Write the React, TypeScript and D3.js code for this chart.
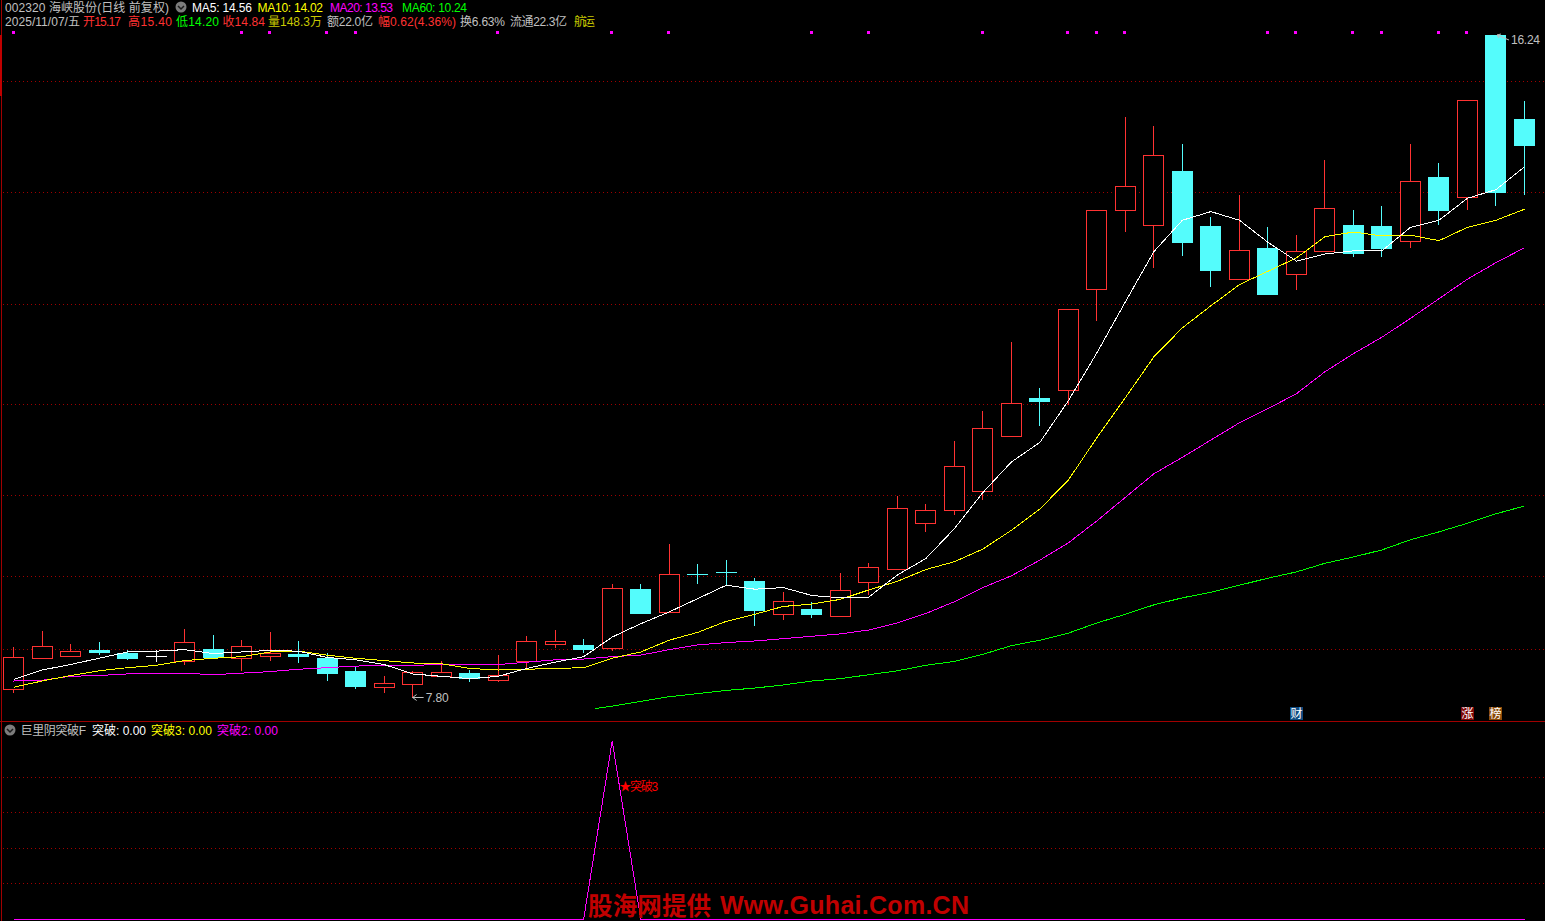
import * as d3 from 'd3';

// daily bars
const opens = [7.91,8.30,8.33,8.41,8.37,8.33,8.27,8.42,8.30,8.33,8.35,8.30,8.14,7.93,7.97,8.07,8.11,8.02,8.27,8.48,8.47,8.43,9.18,8.89,9.375,9.405,9.28,8.86,8.93,8.84,9.27,9.44,10.02,10.19,10.43,11.13,11.61,11.72,13.00,14.01,13.82,14.51,13.81,13.13,13.53,13.20,13.49,13.82,13.81,13.62,14.43,14.18,16.24,15.17];
const closes = [8.32,8.46,8.39,8.38,8.30,8.33,8.51,8.32,8.46,8.37,8.33,8.11,7.95,7.98,8.12,8.12,8.05,8.09,8.52,8.52,8.42,9.19,8.88,9.37,9.37,9.40,8.92,9.03,8.86,9.17,9.46,10.21,10.19,10.75,11.23,11.55,11.58,12.75,14.01,14.32,14.71,13.60,13.25,13.50,12.94,13.49,14.04,13.46,13.53,14.38,14.01,15.41,14.24,14.84];
const highs = [8.44,8.65,8.48,8.51,8.41,8.41,8.67,8.60,8.53,8.63,8.52,8.37,8.19,8.07,8.14,8.27,8.15,8.34,8.58,8.66,8.55,9.25,9.25,9.76,9.50,9.55,9.32,9.14,9.02,9.39,9.51,10.37,10.27,11.07,11.45,12.33,11.74,12.75,14.01,15.20,15.08,14.85,13.92,14.20,13.79,13.69,14.65,14.01,14.06,14.85,14.61,15.41,16.24,15.40];
const lows = [7.86,8.29,8.33,8.34,8.28,8.25,8.21,8.32,8.14,8.27,8.24,8.01,7.91,7.86,7.80,8.07,8.00,8.00,8.18,8.43,8.37,8.39,8.86,8.89,9.25,9.22,8.71,8.79,8.81,8.83,9.11,9.44,9.91,10.13,10.32,11.13,11.26,11.53,12.60,13.73,13.27,13.42,13.03,13.13,12.93,12.99,13.49,13.41,13.41,13.53,13.82,14.01,14.06,14.20];

const ma5 = [8.03,8.15,8.22,8.30,8.38,8.39,8.41,8.36,8.38,8.40,8.39,8.31,8.28,8.22,8.10,8.07,8.04,8.07,8.17,8.25,8.32,8.57,8.74,8.89,9.06,9.23,9.18,9.20,9.10,9.07,9.08,9.36,9.57,9.95,10.41,10.80,11.05,11.58,12.19,12.84,13.48,13.88,13.99,13.88,13.60,13.36,13.45,13.49,13.49,13.79,13.88,14.16,14.27,14.56];
const ma10 = [7.93,8.01,8.08,8.14,8.18,8.21,8.27,8.30,8.32,8.38,8.39,8.34,8.30,8.27,8.24,8.23,8.17,8.15,8.16,8.17,8.18,8.30,8.38,8.53,8.63,8.77,8.86,8.96,8.99,9.05,9.17,9.28,9.43,9.53,9.69,9.93,10.20,10.57,11.11,11.62,12.14,12.51,12.79,13.06,13.23,13.40,13.67,13.73,13.68,13.69,13.62,13.79,13.88,14.02];
const ma20 = [8.01,8.02,8.07,8.08,8.10,8.11,8.11,8.09,8.11,8.13,8.16,8.18,8.20,8.21,8.21,8.22,8.22,8.22,8.25,8.28,8.29,8.32,8.34,8.41,8.47,8.50,8.52,8.55,8.58,8.61,8.66,8.75,8.87,9.02,9.20,9.35,9.55,9.77,10.05,10.35,10.65,10.86,11.08,11.30,11.48,11.67,11.95,12.18,12.39,12.63,12.88,13.13,13.34,13.53];
// the 60 day line only starts part way along
const ma60Index = [20.4,21,22,23,24,25,26,27,28,29,30,31,32,33,34,35,36,37,38,39,40,41,42,43,44,45,46,47,48,49,50,51,52,53];
const ma60 = [7.66,7.69,7.75,7.81,7.85,7.89,7.92,7.96,8.01,8.04,8.09,8.14,8.21,8.26,8.35,8.46,8.53,8.62,8.75,8.86,8.98,9.07,9.14,9.23,9.32,9.40,9.51,9.59,9.68,9.81,9.91,10.02,10.14,10.24];

const priceGrid = [15.65,14.24,12.81,11.54,10.38,9.35,8.42];
const signalGrid = [0.2,0.4,0.6,0.8];
const signalDots = [0,8,9,11,12,17,21,23,28,30,34,37,38,39,44,45,47,48,50,51];
const breakout2 = [0,0,0,0,0,0,0,0,0,0,0,0,0,0,0,0,0,0,0,0,0,1,0,0,0,0,0,0,0,0,0,0,0,0,0,0,0,0,0,0,0,0,0,0,0,0,0,0,0,0,0,0,0,0];

const badges = [
  { index: 45, label: '财', fill: '#0f4a80' },
  { index: 51, label: '涨', fill: '#800808' },
  { index: 52, label: '榜', fill: '#8a4a08' },
];

const RED = '#ff3232';
const CYAN = '#54fcfc';
const YELLOW = '#ffff00';
const MAGENTA = '#ff00ff';
const GREEN = '#00ff00';
const GRAY = '#c0c0c0';
const OLIVE = '#c8c800';
const GRID = '#a00000';
const FRAME = '#a00000';
const FONT = '"Liberation Sans","Noto Sans CJK SC",sans-serif';

const WIDTH = 1545;
const HEIGHT = 921;

const x = d3.scaleLinear().domain([0, 53]).range([13.5, 1524.5]);
const y = d3.scaleLinear().domain([7.8, 16.24]).range([697.5, 35]);
const ySignal = d3.scaleLinear().domain([0, 1]).range([919, 741]);

const maLine = d3.line<number>().x((_, i) => x(i)).y(d => y(d));
const ma60Line = d3.line<number>().x((_, i) => x(ma60Index[i])).y(d => y(d));
const signalLine = d3.line<number>().x((_, i) => x(i)).y(d => ySignal(d));

const crisp = (v: number) => Math.round(v) + 0.5;

// [text, colour, left, right]
const headerTop: [string, string, number, number][] = [
  ['002320 海峡股份(日线 前复权)', GRAY, 5, 169],
  ['MA5: 14.56', '#ffffff', 192, 252],
  ['MA10: 14.02', YELLOW, 257.5, 323],
  ['MA20: 13.53', MAGENTA, 330, 393],
  ['MA60: 10.24', GREEN, 402, 467],
];
const headerBottom: [string, string, number, number][] = [
  ['2025/11/07/五', GRAY, 5, 80],
  ['开15.17', RED, 83, 121],
  ['高15.40', RED, 128, 172],
  ['低14.20', GREEN, 176, 219],
  ['收14.84', RED, 222.5, 265],
  ['量148.3万', OLIVE, 268, 322],
  ['额22.0亿', GRAY, 327, 373],
  ['幅0.62(4.36%)', RED, 378, 456],
  ['换6.63%', GRAY, 460, 505],
  ['流通22.3亿', GRAY, 510, 567],
  ['航运', OLIVE, 574, 595],
];
const headerSignal: [string, string, number, number][] = [
  ['巨里阴突破F', GRAY, 20.5, 86],
  ['突破: 0.00', '#ffffff', 92, 146],
  ['突破3: 0.00', YELLOW, 151, 212],
  ['突破2: 0.00', MAGENTA, 217, 278],
];

function Label({ item, cy }: { item: [string, string, number, number]; cy: number }) {
  const [text, color, left, right] = item;
  return (
    <text x={left} y={cy + 4.5} fill={color} fontSize={12} textLength={right - left} lengthAdjust="spacing">
      {text}
    </text>
  );
}

function Fold({ cx, cy }: { cx: number; cy: number }) {
  return (
    <g>
      <circle cx={cx} cy={cy} r={5.5} fill="#7c7c7c" />
      <path d={`M${cx - 3},${cy - 1}L${cx},${cy + 2}L${cx + 3},${cy - 1}`} fill="none" stroke="#1c1c1c" strokeWidth={1.5} />
    </g>
  );
}

function Candle({ i }: { i: number }) {
  const o = opens[i];
  const c = closes[i];
  const color = o === c ? '#ffffff' : c > o ? RED : CYAN;
  const cx = Math.floor(x(i)) + 0.5;
  const top = crisp(y(Math.max(o, c)));
  const bottom = crisp(y(Math.min(o, c)));
  const hi = y(highs[i]);
  const lo = y(lows[i]);
  const up = c > o;
  const bodyH = bottom - top;
  return (
    <g shapeRendering="crispEdges" stroke={color} strokeWidth={1}>
      <line x1={cx} x2={cx} y1={hi} y2={top} />
      <line x1={cx} x2={cx} y1={bottom} y2={lo} />
      {bodyH === 0 ? (
        <line x1={cx - 10.5} x2={cx + 10.5} y1={top} y2={top} />
      ) : (
        <rect x={cx - 10} y={top} width={20} height={bodyH} fill={up ? '#000000' : CYAN} />
      )}
    </g>
  );
}

export default function App() {
  return (
    <div style={{ position: 'absolute', left: 0, top: 0, width: WIDTH, height: HEIGHT, background: '#000' }}>
      <svg width={WIDTH} height={HEIGHT} style={{ display: 'block' }} fontFamily={FONT}>
        <rect width={WIDTH} height={HEIGHT} fill="#000000" />

        {/* frame */}
        <g shapeRendering="crispEdges">
          <line x1={1.5} x2={1.5} y1={0} y2={HEIGHT} stroke={FRAME} />
          <rect x={0} y={35} width={2} height={61} fill="#c00000" />
          <line x1={0} x2={WIDTH} y1={721.5} y2={721.5} stroke={FRAME} />
        </g>

        {/* dotted grid */}
        <g shapeRendering="crispEdges" stroke={GRID} strokeDasharray="1 3">
          {priceGrid.map(p => (
            <line key={p} x1={3} x2={WIDTH} y1={crisp(y(p))} y2={crisp(y(p))} />
          ))}
          {signalGrid.map(v => (
            <line key={v} x1={3} x2={WIDTH} y1={crisp(ySignal(v))} y2={crisp(ySignal(v))} />
          ))}
        </g>

        {/* signal dots above the bars */}
        <g fill={MAGENTA} shapeRendering="crispEdges">
          {signalDots.map(i => (
            <rect key={i} x={Math.round(x(i)) - 2} y={31} width={3} height={3} />
          ))}
        </g>

        {opens.map((_, i) => <Candle key={i} i={i} />)}

        {/* moving averages */}
        <g fill="none" strokeWidth={1} shapeRendering="crispEdges">
          <path d={maLine(ma20) ?? ''} stroke={MAGENTA} />
          <path d={maLine(ma10) ?? ''} stroke={YELLOW} />
          <path d={maLine(ma5) ?? ''} stroke="#ffffff" />
          <path d={ma60Line(ma60) ?? ''} stroke={GREEN} />
        </g>

        {/* high / low notes */}
        <g stroke={GRAY} fill="none" strokeWidth={1}>
          <path d={`M${x(14)},${y(7.8)}h11M${x(14)},${y(7.8)}l4,-3M${x(14)},${y(7.8)}l4,3`} />
          <path d={`M${x(52) + 1},${y(16.24)}l12,5M${x(52) + 1},${y(16.24)}l4,-1M${x(52) + 1},${y(16.24)}l2,3`} />
        </g>
        <text x={x(14) + 13} y={y(7.8) + 4.5} fill={GRAY} fontSize={12} textLength={23}>7.80</text>
        <text x={x(52) + 15} y={y(16.24) + 8.5} fill={GRAY} fontSize={12} textLength={29}>16.24</text>

        {/* event badges */}
        {badges.map(b => (
          <g key={b.label}>
            <rect x={Math.floor(x(b.index)) - 6} y={707} width={13} height={13} fill={b.fill} />
            <text x={Math.floor(x(b.index)) + 0.5} y={718} textAnchor="middle" fill="#ffffff" fontSize={12}>{b.label}</text>
          </g>
        ))}

        {/* header rows */}
        {headerTop.map(item => <Label key={item[0]} item={item} cy={7} />)}
        {headerBottom.map(item => <Label key={item[0]} item={item} cy={21} />)}
        <Fold cx={181} cy={7} />

        {/* lower pane */}
        <Fold cx={10} cy={730} />
        {headerSignal.map(item => <Label key={item[0]} item={item} cy={730} />)}
        <path d={signalLine(breakout2) ?? ''} fill="none" stroke={MAGENTA} strokeWidth={1} shapeRendering="crispEdges" />
        <text x={x(21) + 7} y={ySignal(0.72)} fill="#ff0000" fontSize={12} textLength={39}>★突破3</text>

        <g fill="#c00000" fontWeight="bold">
          <text x={588} y={915} fontSize={24.5} fontFamily='"Noto Sans CJK SC",sans-serif' textLength={123}>股海网提供</text>
          <text x={720} y={914} fontSize={25} fontFamily='"Liberation Sans",sans-serif' textLength={249}>Www.Guhai.Com.CN</text>
        </g>
      </svg>
    </div>
  );
}
